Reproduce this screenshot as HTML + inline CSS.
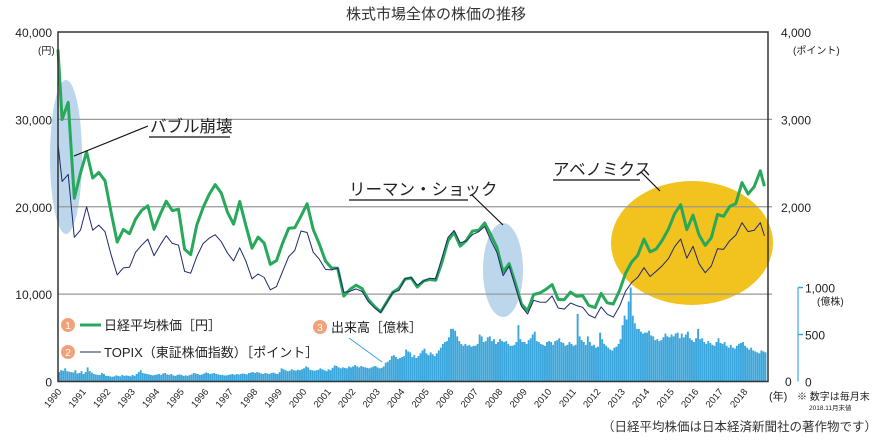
<!DOCTYPE html>
<html><head><meta charset="utf-8">
<style>
html,body{margin:0;padding:0;background:#fff;}
svg{display:block;font-family:"Liberation Sans","Noto Sans CJK JP",sans-serif;}
</style></head>
<body>
<svg id="chart" width="872" height="440" viewBox="0 0 872 440">
<text x="436" y="19" text-anchor="middle" font-size="15" fill="#333">株式市場全体の株価の推移</text>
<g id="highlights"></g>
<g id="grid"></g>
<g id="bars"></g>
<g id="lines"></g>
<g id="axes"></g>
<g id="annot"></g>
</svg>
<script>
// Nikkei (yen): Jan-1990 start, then quarter-end values, last = Nov 2018
const nikkei = [38000,
29980,31940,20980,23850, 26290,23290,23920,22980, 19350,15950,17400,16920, 18590,19590,20110,17420,
19110,20640,19560,19720, 15140,14520,17910,19870, 21400,22530,21560,19360, 18000,20600,17890,15260,
16530,15830,13410,13840, 15840,17530,17600,18930, 20340,17410,15750,13790, 12990,12970,9770,10540,
11020,10620,9380,8580, 7970,9080,10220,10680, 11720,11860,10820,11490, 11670,11580,13570,16110,
17060,15500,16130,17230, 17290,18140,16790,15310, 12530,13480,11260,8860, 8110,9960,10130,10550,
11090,9380,9370,10230, 9760,9820,8700,8460, 10080,9010,8870,10400, 12400,13680,14460,16290,
14830,15160,16170,17450, 19210,20240,17390,19030, 16760,15580,16450,19110, 18910,20030,20360,22760,
21450,22300,24120,22350];
// TOPIX (points), same dates
const topix = [2720,
2290,2370,1650,1733, 2000,1730,1790,1714, 1450,1220,1300,1308, 1480,1560,1630,1440,
1560,1670,1580,1560, 1260,1240,1430,1577, 1640,1680,1600,1470, 1380,1530,1380,1175,
1230,1190,1050,1086, 1260,1430,1500,1722, 1705,1480,1400,1283, 1277,1300,1020,1032,
1060,1030,915,843, 788,903,1018,1043, 1179,1189,1102,1149, 1182,1177,1412,1649,
1728,1586,1610,1681, 1713,1774,1616,1475, 1212,1320,1087,860, 773,929,909,907,
978,841,829,898, 869,849,761,728, 854,770,737,859, 1034,1133,1194,1302,
1202,1262,1326,1407, 1543,1630,1411,1547, 1347,1245,1322,1519, 1512,1612,1675,1818,
1716,1730,1817,1667];
// Monthly volume (億株), Jan 1990 - Nov 2018
const volume = [
100,120,115,140,110,105,100,95,120,85,90,110,
80,100,150,110,95,80,75,70,70,90,80,60,
60,55,50,55,65,60,55,70,60,65,60,55,
70,60,80,100,120,90,85,80,75,70,65,70,
75,80,70,85,90,75,70,80,65,60,70,75,
70,60,65,60,70,75,90,85,80,70,75,85,
95,90,80,85,90,80,75,70,70,65,65,70,
75,80,70,80,75,80,85,80,75,90,95,100,
90,100,95,85,80,90,85,80,90,95,85,80,
100,140,130,120,110,115,130,120,115,125,120,130,
140,160,150,125,120,115,120,125,140,130,120,110,
130,120,145,170,165,150,140,150,145,140,160,150,
160,175,160,150,165,155,150,145,140,150,160,165,
150,140,145,160,200,210,230,270,280,260,240,250,
260,270,340,320,310,260,280,250,270,300,330,350,
300,280,310,290,270,300,330,360,400,420,430,470,
560,560,540,480,430,400,380,400,380,390,370,380,
380,400,500,480,420,430,470,480,430,450,400,420,
450,430,420,430,400,380,380,390,420,600,450,420,
420,400,440,460,500,530,430,420,400,390,380,420,
430,420,390,430,440,460,420,410,380,390,420,400,
380,390,720,480,440,420,390,480,420,380,390,360,
370,520,450,400,380,360,340,330,360,370,400,450,
600,700,660,850,1000,700,620,560,560,530,510,520,
520,540,490,480,440,450,430,440,470,510,480,470,
500,480,510,520,460,510,470,500,530,460,440,420,
460,560,450,460,420,400,430,410,390,380,420,460,
410,400,420,380,360,390,360,350,380,400,410,420,
380,360,340,360,330,320,310,300,330,320,310];
const years = [1990,1991,1992,1993,1994,1995,1996,1997,1998,1999,2000,2001,2002,2003,2004,2005,2006,2007,2008,2009,2010,2011,2012,2013,2014,2015,2016,2017,2018];
const leftTicks = [0,10000,20000,30000,40000];
const leftLabels = ["0","10,000","20,000","30,000","40,000"];
const rightTicks = [2000,3000,4000];
const rightLabels = ["2,000","3,000","4,000"];
const volTicks = [0,500,1000];
const volLabels = ["0","500","1,000"];

const NS="http://www.w3.org/2000/svg";
const X0=58, X1=768, Y0=381.5, YT=32;
const YW=24.5;
const xM = m => X0 + m/12*YW;
const yN = v => Y0 - (v/40000)*(Y0-YT);
const yT = v => Y0 - (v/4000)*(Y0-YT);
const yV = v => Y0 - v*0.094;
const tIdx = (i,n) => i===0 ? 0 : (i===n-1 ? 346 : 3*i-1);
function mk(tag, attrs, parent){const e=document.createElementNS(NS,tag);for(const k in attrs)e.setAttribute(k,attrs[k]);parent.appendChild(e);return e;}
const g = id => document.getElementById(id);

let e;
e=mk('ellipse',{cx:66,cy:157,rx:16,ry:77,fill:'#bcd6ec'},g('highlights'));


e=mk('ellipse',{cx:503,cy:270,rx:20,ry:47,fill:'#bcd6ec'},g('highlights'));


e=mk('ellipse',{cx:692,cy:243,rx:81,ry:62,fill:'#f2c21f'},g('highlights'));



leftTicks.forEach((v,i)=>{
  if(v>0 && v<40000){
    const l=mk('line',{x1:X0,x2:X1+4,y1:yN(v),y2:yN(v),stroke:'#999','stroke-width':1.2},g('grid'));
    
    
  }
});

volume.forEach((v,i)=>{
  const r=mk('rect',{x:xM(i)+0.1,y:yV(v),width:1.9,height:Y0-yV(v),fill:'#3aa6dc'},g('bars'));
  
  
});

function linePath(arr,yf){return arr.map((v,i)=>(i?'L':'M')+xM(tIdx(i,arr.length)).toFixed(1)+' '+yf(v).toFixed(1)).join(' ');}
e=mk('path',{d:linePath(nikkei,yN),fill:'none',stroke:'#27a85a','stroke-width':3,'stroke-linejoin':'round'},g('lines'));


e=mk('path',{d:linePath(topix,yT),fill:'none',stroke:'#1f2a6e','stroke-width':1,'stroke-linejoin':'round'},g('lines'));



const ax=g('axes');
e=mk('path',{d:`M${X0} ${YT}H${X1}V${Y0}H${X0}Z`,fill:'none',stroke:'#333','stroke-width':1.5},ax);


leftTicks.forEach((v,i)=>{
  const t=mk('text',{x:52,y:yN(v)+5,'text-anchor':'end','font-size':12,fill:'#222'},ax);
  t.textContent=leftLabels[i];
  
  
});
rightTicks.forEach((v,i)=>{
  const t=mk('text',{x:781,y:yT(v)+5,'font-size':12,fill:'#222'},ax);
  t.textContent=rightLabels[i];
  
  
});
e=mk('text',{x:785,y:386,'font-size':12,fill:'#222'},ax); e.textContent='0';


e=mk('line',{x1:798,x2:798,y1:yV(1000),y2:Y0,stroke:'#8cccee','stroke-width':2},ax);


volTicks.forEach((v,i)=>{
  if(v>0){const l=mk('line',{x1:798,x2:803,y1:yV(v),y2:yV(v),stroke:'#3aa6dc','stroke-width':1.5},ax);
  
  }
  const t=mk('text',{x:805,y:yV(v)+5,'font-size':12,fill:'#222'},ax);
  t.textContent=volLabels[i];
  
  
});
years.forEach((y,i)=>{
  const x=X0+i*YW;
  const t=mk('text',{x:x+4,y:392,'font-size':9.5,fill:'#222','text-anchor':'end',transform:`rotate(-50 ${x+4} 392)`},ax);
  t.textContent=y;
  
  
});
</script>
<svg style="position:absolute;left:0;top:0" width="872" height="440">
<g font-family="'Liberation Sans','Noto Sans CJK JP',sans-serif" fill="#222">
<text x="38" y="54" font-size="10">(円)</text>
<text x="793" y="54" font-size="10">(ポイント)</text>
<text x="817" y="305" font-size="10">(億株)</text>
<text x="769" y="400" font-size="11">(年)</text>
<text x="797" y="400" font-size="10">※ 数字は毎月末</text>
<text x="809" y="410" font-size="6.5">2018.11月末値</text>
<text x="602" y="431" font-size="12.5" fill="#333">（日経平均株価は日本経済新聞社の著作物です）</text>
<line x1="148" y1="126" x2="74" y2="156" stroke="#111" stroke-width="1.2"/>
<text x="150" y="132" font-size="16.5">バブル崩壊</text>
<line x1="149" y1="137" x2="230" y2="137" stroke="#111" stroke-width="1.2"/>
<text x="349" y="195" font-size="16.5">リーマン・ショック</text>
<line x1="349" y1="200" x2="468" y2="200" stroke="#111" stroke-width="1.2"/>
<line x1="472" y1="195" x2="503" y2="225" stroke="#111" stroke-width="1.2"/>
<text x="553" y="175" font-size="16.5">アベノミクス</text>
<line x1="553" y1="180" x2="640" y2="180" stroke="#111" stroke-width="1.2"/>
<line x1="641" y1="172" x2="660" y2="191" stroke="#111" stroke-width="1.2"/>
<g>
<circle cx="68" cy="325" r="7" fill="#f2a27a"/><text x="68" y="329" font-size="10" fill="#fff" text-anchor="middle">1</text>
<line x1="80" y1="325" x2="101" y2="325" stroke="#27a85a" stroke-width="3"/>
<text x="104" y="330" font-size="13">日経平均株価［円］</text></g>
<g>
<circle cx="68" cy="352" r="7" fill="#f2a27a"/><text x="68" y="356" font-size="10" fill="#fff" text-anchor="middle">2</text>
<line x1="80" y1="352" x2="101" y2="352" stroke="#1f2a6e" stroke-width="1"/>
<text x="104" y="357" font-size="13">TOPIX（東証株価指数）［ポイント］</text></g>
<g>
<circle cx="320" cy="327" r="7" fill="#f2a27a"/><text x="320" y="331" font-size="10" fill="#fff" text-anchor="middle">3</text>
<text x="331" y="332" font-size="13">出来高［億株］</text>
<line x1="349" y1="338" x2="382" y2="362" stroke="#3aa6dc" stroke-width="1"/></g>
</g>
</svg>
</body></html>
